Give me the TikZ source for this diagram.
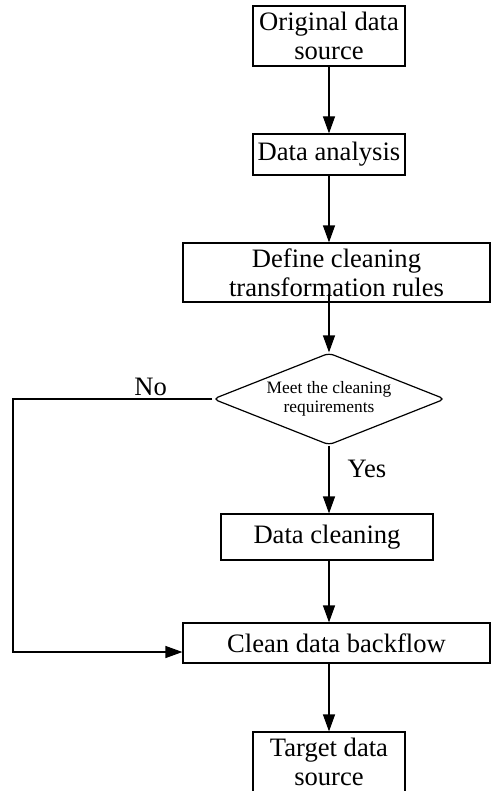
\documentclass[tikz,border=0pt]{standalone}
\usepackage{fontspec}
\setmainfont{Liberation Serif}
\usetikzlibrary{arrows.meta,shapes.geometric,calc}
\begin{document}
\begin{tikzpicture}[x=0.5pt,y=-0.5pt,
  every path/.style={line width=0.6pt},
  box/.style={draw, line width=0.6pt, rectangle, align=center, inner sep=1pt,
    font=\fontsize{13.3}{14.6}\selectfont},
  dec/.style={draw, line width=0.6pt, diamond, aspect=2.52, rounded corners=2.5pt, align=center, inner sep=0pt,
    font=\fontsize{8.7}{9.2}\selectfont},
  lbl/.style={inner sep=0pt, font=\fontsize{13.3}{14.6}\selectfont},
  arr/.style={-{Triangle[length=8.5pt,width=6pt]}, line width=0.6pt}]
\useasboundingbox (0,0) rectangle (491,791);
\node[box, minimum width=76pt, minimum height=30pt] (orig) at (329,36) {Original data\\source};
\node[box, minimum width=76pt, minimum height=20.5pt] (ana) at (329,154.5) {Data analysis};
\node[box, minimum width=153.5pt, minimum height=29.5pt] (def) at (336.5,272.5) {Define cleaning\\transformation rules};
\node[dec, minimum width=116pt, minimum height=46pt] (dia) at (329,399) {Meet the cleaning\\requirements};
\node[box, minimum width=106pt, minimum height=23pt] (cln) at (327,537) {Data cleaning};
\node[box, minimum width=153.5pt, minimum height=20pt] (back) at (336.5,643) {Clean data backflow};
\node[box, minimum width=76pt, minimum height=30pt] (tgt) at (329,762) {Target data\\source};
\coordinate (turn) at (13,399);
\coordinate (defout) at ($(def.south -| dia.north)+(0,-9)$);
\draw[arr] (orig.south) -- (ana.north);
\draw[arr] (ana.south) -- (ana.south |- def.north);
\draw[arr] (defout) -- (dia.north);
\draw[arr] (dia.south) -- node[lbl, pos=0.35, anchor=west, xshift=9pt] {Yes} (dia.south |- cln.north);
\draw[arr] (dia.south |- cln.south) -- (dia.south |- back.north);
\draw[arr] (dia.south |- back.south) -- (tgt.north);
\draw[arr] (dia.west) -- node[lbl, pos=0.31, anchor=base, yshift=2pt] {No} (turn) |- ($(back.west)+(0,9)$);
\end{tikzpicture}
\end{document}
